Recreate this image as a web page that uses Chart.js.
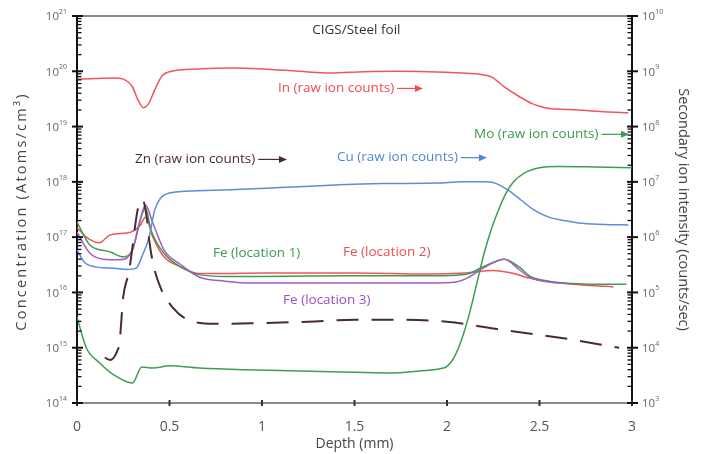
<!DOCTYPE html>
<html>
<head>
<meta charset="utf-8">
<script src="https://cdn.jsdelivr.net/npm/chart.js@4.4.1/dist/chart.umd.min.js"></script>
<style>
  html, body { margin: 0; padding: 0; background: #fff; }
</style>
</head>
<body>
<canvas id="chart" width="702" height="454"></canvas>
<script>
// depth in mm
const inDepth  = [0, 0.1, 0.2, 0.25, 0.3, 0.33, 0.36, 0.39, 0.42, 0.46, 0.5, 0.66, 0.84, 1.0, 1.2, 1.37, 1.55, 1.73, 1.9, 2.08, 2.17, 2.24, 2.31, 2.39, 2.46, 2.53, 2.71, 2.85, 2.98];
const inCounts = [7.2e8, 7.4e8, 7.6e8, 7.2e8, 5.2e8, 3.0e8, 2.2e8, 2.7e8, 4.6e8, 8.3e8, 9.8e8, 1.1e9, 1.15e9, 1.1e9, 1.0e9, 9.3e8, 9.8e8, 1.0e9, 9.8e8, 9.3e8, 8.9e8, 7.9e8, 5.2e8, 3.5e8, 2.6e8, 2.2e8, 2.0e8, 1.86e8, 1.78e8];

const cuDepth  = [0, 0.04, 0.1, 0.2, 0.27, 0.32, 0.35, 0.39, 0.42, 0.45, 0.5, 0.65, 0.83, 1.1, 1.37, 1.65, 1.95, 2.08, 2.2, 2.26, 2.33, 2.4, 2.47, 2.55, 2.63, 2.71, 2.85, 2.98];
const cuCounts = [5.9e5, 3.5e5, 2.9e5, 2.75e5, 2.6e5, 2.75e5, 4.4e5, 1.0e6, 3.1e6, 5.0e6, 6.3e6, 6.9e6, 7.2e6, 7.9e6, 8.7e6, 9.3e6, 9.5e6, 1.0e7, 1.0e7, 9.5e6, 7.1e6, 4.7e6, 3.1e6, 2.3e6, 2.0e6, 1.8e6, 1.7e6, 1.66e6];

const moDepth  = [0, 0.05, 0.12, 0.2, 0.3, 0.35, 0.41, 0.5, 0.66, 0.9, 1.2, 1.5, 1.72, 1.85, 1.98, 2.0, 2.03, 2.06, 2.09, 2.12, 2.16, 2.2, 2.24, 2.28, 2.32, 2.36, 2.42, 2.5, 2.6, 2.8, 3.0];
const moCounts = [3.6e4, 1.0e4, 5.4e3, 3.2e3, 2.3e3, 4.5e3, 4.3e3, 4.7e3, 4.3e3, 4.0e3, 3.8e3, 3.6e3, 3.5e3, 3.8e3, 4.3e3, 4.6e3, 6.0e3, 9.5e3, 1.8e4, 4.0e4, 1.4e5, 5.0e5, 1.4e6, 3.2e6, 6.3e6, 1.0e7, 1.45e7, 1.8e7, 1.9e7, 1.86e7, 1.8e7];

const znDepth  = [0.15, 0.18, 0.22, 0.23, 0.25, 0.28, 0.34, 0.355, 0.38, 0.39, 0.41, 0.45, 0.52, 0.6, 0.75, 1.0, 1.25, 1.5, 1.75, 2.0, 2.3, 2.62, 2.93];
const znCounts = [6.6e3, 6.0e3, 9.1e3, 1.23e4, 8.3e4, 2.3e5, 4.4e6, 4.7e6, 1.9e6, 8.9e5, 3.5e5, 1.26e5, 5.2e4, 3.2e4, 2.7e4, 2.8e4, 2.95e4, 3.2e4, 3.2e4, 2.95e4, 2.1e4, 1.5e4, 1.0e4];

const fe1Depth = [0, 0.07, 0.18, 0.25, 0.3, 0.35, 0.37, 0.4, 0.47, 0.56, 0.66, 0.8, 1.0, 1.5, 1.9, 2.05, 2.12, 2.2, 2.31, 2.39, 2.45, 2.55, 2.68, 2.85, 2.97];
const fe1Conc  = [1.86e17, 7.2e16, 5.4e16, 4.4e16, 5.9e16, 2.5e17, 3.4e17, 1.35e17, 5.1e16, 2.9e16, 2.1e16, 1.95e16, 1.95e16, 2.0e16, 2.0e16, 2.05e16, 2.2e16, 2.95e16, 4.0e16, 2.9e16, 1.95e16, 1.6e16, 1.45e16, 1.4e16, 1.4e16];

const fe2Depth = [0, 0.05, 0.12, 0.18, 0.29, 0.34, 0.37, 0.41, 0.47, 0.56, 0.66, 0.8, 1.0, 1.5, 1.9, 2.1, 2.25, 2.35, 2.45, 2.6, 2.75, 2.9];
const fe2Conc  = [1.5e17, 1.0e17, 7.9e16, 1.1e17, 1.23e17, 1.6e17, 2.3e17, 1.0e17, 4.4e16, 2.9e16, 2.2e16, 2.2e16, 2.25e16, 2.25e16, 2.15e16, 2.25e16, 2.5e16, 2.25e16, 1.8e16, 1.5e16, 1.35e16, 1.26e16];

const fe3Depth = [0, 0.07, 0.14, 0.23, 0.3, 0.34, 0.37, 0.41, 0.47, 0.56, 0.66, 0.8, 0.95, 1.5, 1.9, 2.05, 2.12, 2.2, 2.31, 2.39, 2.45, 2.55, 2.65];
const fe3Conc  = [1.23e17, 5.1e16, 4.0e16, 3.9e16, 5.9e16, 2.0e17, 3.8e17, 1.8e17, 5.9e16, 3.2e16, 1.9e16, 1.6e16, 1.48e16, 1.48e16, 1.48e16, 1.55e16, 1.9e16, 2.8e16, 4.0e16, 2.6e16, 1.86e16, 1.55e16, 1.45e16];

const leftPowers  = [14, 15, 16, 17, 18, 19, 20, 21];
const rightPowers = [3, 4, 5, 6, 7, 8, 9, 10];
const xTicks = [0, 0.5, 1, 1.5, 2, 2.5, 3];

const RED = '#f2545b', GREEN = '#3f9c52', BLUE = '#5b8ed6', PURPLE = '#a25cc2', BROWN = '#4a2b2e';
const FONT = 'Open Sans';

// text labels, placed in data units (x in mm, y on the left axis)
const notes = [
  { text: 'CIGS/Steel foil', x: 1.51, y: 5.6e20, color: '#333', center: true },
  { text: 'In (raw ion counts)', x: 1.086, y: 5.0e19, color: '#ee4c50', arrowTo: 1.87 },
  { text: 'Zn (raw ion counts)', x: 0.314, y: 2.6e18, color: '#4a2b2e', arrowTo: 1.135 },
  { text: 'Cu (raw ion counts)', x: 1.405, y: 2.8e18, color: '#4f86d3', arrowTo: 2.216 },
  { text: 'Mo (raw ion counts)', x: 2.146, y: 7.4e18, color: '#3a9a4e', arrowTo: 2.984 },
  { text: 'Fe (location 1)', x: 0.735, y: 5.1e16, color: '#3a9a4e' },
  { text: 'Fe (location 2)', x: 1.438, y: 5.4e16, color: '#ee4c50' },
  { text: 'Fe (location 3)', x: 1.114, y: 7.1e15, color: '#9a50bd' }
];

function pts(xs, ys) {
  return xs.map((d, i) => ({ x: d, y: ys[i] }));
}

// tick marks along a log axis: long ones at each power of ten, short ones between
function drawPowerTicks(ctx, scale, powers, side, axisX) {
  let dir = side === 'left' ? 1 : -1;
  ctx.save();
  ctx.setLineDash([]);
  ctx.strokeStyle = '#111';
  powers.forEach((p, k) => {
    for (let m = 1; m <= 9; m++) {
      if (k === powers.length - 1 && m > 1) break;
      let py = scale.getPixelForValue(m * Math.pow(10, p));
      ctx.beginPath();
      if (m === 1) {
        ctx.lineWidth = 2;
        ctx.moveTo(axisX - 5, py);
        ctx.lineTo(axisX + 6, py);
      } else {
        ctx.lineWidth = 1.3;
        ctx.moveTo(axisX, py);
        ctx.lineTo(axisX + dir * 4.5, py);
      }
      ctx.stroke();
    }
  });
  ctx.restore();
  // labels 10^p
  powers.forEach(p => {
    let py = scale.getPixelForValue(Math.pow(10, p));
    ctx.fillStyle = '#666';
    ctx.textBaseline = 'middle';
    ctx.textAlign = 'left';
    ctx.font = '11.5px "' + FONT + '"';
    let bw = ctx.measureText('10').width;
    ctx.font = '7px "' + FONT + '"';
    let ew = ctx.measureText(String(p)).width;
    let x0 = side === 'left' ? axisX - 10 - bw - ew : axisX + 10;
    ctx.font = '11.5px "' + FONT + '"';
    ctx.fillText('10', x0, py + 1);
    ctx.font = '7px "' + FONT + '"';
    ctx.fillText(String(p), x0 + bw, py - 4);
  });
}

const decorPlugin = {
  id: 'decor',
  afterDraw(chart) {
    const ctx = chart.ctx;
    const area = chart.chartArea;
    const xs = chart.scales.x, ys = chart.scales.y, ys1 = chart.scales.y1;
    ctx.save();

    // notes
    ctx.font = '13.5px "' + FONT + '"';
    ctx.textBaseline = 'middle';
    notes.forEach(n => {
      let px = xs.getPixelForValue(n.x);
      let py = ys.getPixelForValue(n.y);
      ctx.fillStyle = n.color;
      ctx.textAlign = n.center ? 'center' : 'left';
      ctx.fillText(n.text, px, py);
      if (n.arrowTo) {
        let w = ctx.measureText(n.text).width;
        let a0 = px + w + 3, a1 = xs.getPixelForValue(n.arrowTo);
        ctx.strokeStyle = n.color;
        ctx.lineWidth = 1.2;
        ctx.beginPath();
        ctx.moveTo(a0, py + 0.5);
        ctx.lineTo(a1 - 6, py + 0.5);
        ctx.stroke();
        ctx.beginPath();
        ctx.moveTo(a1, py + 0.5);
        ctx.lineTo(a1 - 8, py - 3);
        ctx.lineTo(a1 - 8, py + 4);
        ctx.closePath();
        ctx.fill();
      }
    });

    // top frame
    ctx.strokeStyle = '#8a8a8a';
    ctx.lineWidth = 2;
    ctx.beginPath();
    ctx.moveTo(area.left, area.top);
    ctx.lineTo(area.right, area.top);
    ctx.stroke();

    // x ticks
    ctx.strokeStyle = '#333';
    ctx.lineWidth = 2;
    xTicks.forEach(v => {
      let px = xs.getPixelForValue(v);
      ctx.beginPath();
      ctx.moveTo(px, area.bottom - 3);
      ctx.lineTo(px, area.bottom + 3);
      ctx.stroke();
    });

    drawPowerTicks(ctx, ys, leftPowers, 'left', area.left);
    drawPowerTicks(ctx, ys1, rightPowers, 'right', area.right);

    // left axis title, spread out like the original
    ctx.save();
    ctx.translate(22, (area.top + area.bottom) / 2 + 2);
    ctx.rotate(-Math.PI / 2);
    ctx.font = '14.5px "' + FONT + '"';
    ctx.fillStyle = '#444';
    ctx.textAlign = 'center';
    ctx.textBaseline = 'middle';
    const ltitle = 'Concentration (Atoms/cm³)';
    let nat = ctx.measureText(ltitle).width;
    ctx.letterSpacing = Math.max(0, (236 - nat) / (ltitle.length - 1)).toFixed(2) + 'px';
    ctx.fillText(ltitle, 0, 0);
    ctx.restore();

    ctx.restore();
  }
};

function series(label, xs, ys, color, axis, dash) {
  return {
    label: label,
    data: pts(xs, ys),
    yAxisID: axis,
    borderColor: color,
    borderWidth: dash ? 2 : 1.5,
    borderDash: dash || [],
    pointRadius: 0,
    fill: false,
    cubicInterpolationMode: 'monotone'
  };
}

new Chart(document.getElementById('chart').getContext('2d'), {
  type: 'line',
  data: {
    datasets: [
      series('Zn', znDepth, znCounts, BROWN, 'y1', [22, 13]),
      series('Mo', moDepth, moCounts, GREEN, 'y1'),
      series('Cu', cuDepth, cuCounts, BLUE, 'y1'),
      series('In', inDepth, inCounts, RED, 'y1'),
      series('Fe (location 3)', fe3Depth, fe3Conc, PURPLE, 'y'),
      series('Fe (location 1)', fe1Depth, fe1Conc, GREEN, 'y'),
      series('Fe (location 2)', fe2Depth, fe2Conc, RED, 'y')
    ]
  },
  options: {
    responsive: false,
    animation: false,
    layout: { padding: { top: 16, left: 0, right: 0, bottom: 0 } },
    plugins: { legend: { display: false }, tooltip: { enabled: false } },
    scales: {
      x: {
        type: 'linear', min: 0, max: 3,
        afterBuildTicks: s => { s.ticks = xTicks.map(v => ({ value: v })); },
        ticks: { color: '#555', font: { family: FONT, size: 14 }, padding: 8, callback: v => String(v) },
        grid: { display: false },
        border: { color: '#8a8a8a', width: 2 },
        title: { display: true, text: 'Depth (mm)', color: '#444', font: { family: FONT, size: 14 }, padding: { top: 1, bottom: 2 } },
        afterFit: s => { s.height = 51; }
      },
      y: {
        type: 'logarithmic', position: 'left', min: 1e14, max: 1e21,
        ticks: { display: false },
        grid: { display: false },
        border: { color: '#111', width: 2 },
        title: { display: false },
        afterFit: s => { s.width = 77; }
      },
      y1: {
        type: 'logarithmic', position: 'right', min: 1e3, max: 1e10,
        ticks: { display: false },
        grid: { display: false },
        border: { color: '#111', width: 2 },
        title: { display: true, text: 'Secondary ion intensity (counts/sec)', color: '#444', font: { family: FONT, size: 14.5 }, padding: { top: 10, bottom: 0 } },
        afterFit: s => { s.width = 70; }
      }
    }
  },
  plugins: [decorPlugin]
});
</script>
</body>
</html>
